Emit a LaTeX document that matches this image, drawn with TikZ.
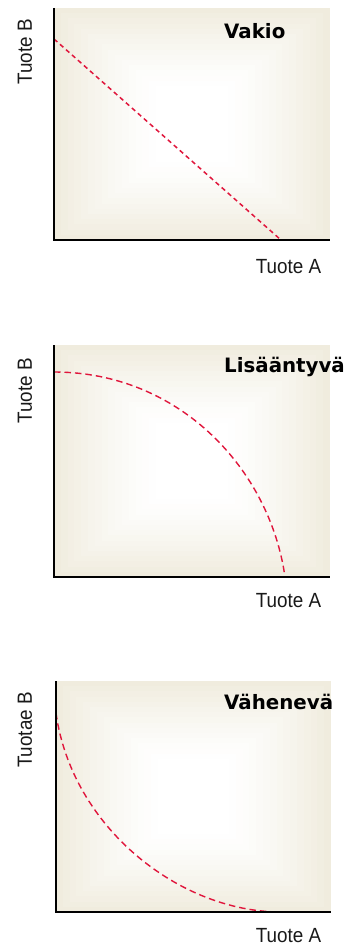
\documentclass[tikz,border=0pt]{standalone}
\usepackage{fontspec}
\setmainfont{Liberation Sans}
\newfontfamily\labfont[FakeStretch=0.92]{Liberation Sans}
\newfontfamily\titlefont{DejaVu Sans}
\definecolor{beige}{RGB}{240,236,222}
\definecolor{curvered}{RGB}{224,22,60}
\newcommand{\shadedpanel}[4]{%
  \foreach \i in {0,...,15}{%
    \pgfmathsetmacro{\dx}{\i*6.8}%
    \pgfmathsetmacro{\dy}{\i*5.2}%
    \pgfmathsetmacro{\pc}{100*(1-\i/15)^1.3}%
    \fill[beige!\pc!white] (#1+\dx,#2+\dy) rectangle (#3-\dx,#4-\dy);
  }}
\tikzset{
  axisline/.style={black, line width=1.6pt},
  curve/.style={curvered, line width=1.5pt, dash pattern=on 4.5pt off 3.5pt},
  curvelong/.style={curvered, line width=1.4pt, dash pattern=on 6.5pt off 4pt},
  lab/.style={font=\labfont\fontsize{20.5}{24}\selectfont, text=black!90, inner sep=0pt},
  ptitle/.style={font=\titlefont\bfseries\fontsize{19.8}{23}\selectfont, anchor=west, inner sep=0pt},
}
\begin{document}
\begin{tikzpicture}[x=1pt,y=-1pt]
\useasboundingbox (0,0) rectangle (345,947);
% Panel 1
\shadedpanel{54}{8}{330}{240}
\coordinate (a1) at (54,39);
\coordinate (b1) at (281,240);
\draw[curve] (a1) -- (b1);
\draw[axisline] (54,8) -- (54,240) -- (330,240);
\node[ptitle] (t1) at (224,31) {Vakio};
\node[lab, rotate=90] (yl1) at (25,52) {Tuote B};
\node[lab] (xl1) at (288.5,267) {Tuote A};
% Panel 2
\shadedpanel{54}{345}{330}{577}
\coordinate (a2) at (54,372);
\coordinate (b2) at (285,577);
\draw[curvelong] (a2) .. controls (180,372) and (270,470) .. (b2);
\draw[axisline] (54,345) -- (54,577) -- (330,577);
\node[ptitle] (t2) at (224,367) {Lisääntyvä};
\node[lab, rotate=90] (yl2) at (25,391) {Tuote B};
\node[lab] (xl2) at (288.5,601) {Tuote A};
% Panel 3
\shadedpanel{56}{681}{331}{912}
\coordinate (a3) at (56,713);
\coordinate (b3) at (281,912);
\draw[curvelong] (a3) .. controls (72,828) and (180,912) .. (b3);
\draw[axisline] (56,681) -- (56,912) -- (331,912);
\node[ptitle] (t3) at (224,702) {Vähenevä};
\node[lab, rotate=90] (yl3) at (25,730) {Tuotae B};
\node[lab] (xl3) at (288.5,936) {Tuote A};
\end{tikzpicture}
\end{document}
